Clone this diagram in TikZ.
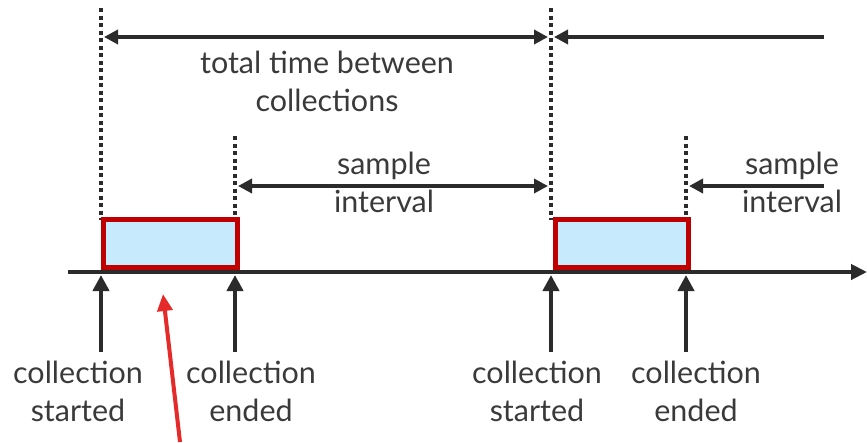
\documentclass[tikz,border=0pt]{standalone}
\usepackage{fontspec}
\setmainfont{Lato}
\usetikzlibrary{arrows.meta}
\definecolor{ink}{HTML}{2B2B2B}
\definecolor{txt}{HTML}{3A3A3A}
\definecolor{boxred}{HTML}{C00000}
\definecolor{boxfill}{HTML}{C7EBFD}
\definecolor{pointer}{HTML}{E52A2A}
\tikzset{
  guide/.style={ink, line width=4pt, dash pattern=on 4pt off 3.5pt},
  span/.style={ink, line width=4.2pt, {Triangle[length=14pt,width=14pt]}-{Triangle[length=14pt,width=14pt]}},
  halfspan/.style={ink, line width=4.2pt, -{Triangle[length=14pt,width=14pt]}},
  marker/.style={ink, line width=4.5pt, -{Triangle[length=16pt,width=16pt]}},
  window/.style={draw=boxred, line width=5pt, fill=boxfill},
  lbl/.style={text=txt, font=\fontsize{30.5}{38}\selectfont, align=center, inner sep=0pt}
}
\begin{document}
\begin{tikzpicture}[x=1pt,y=-1pt]
\useasboundingbox (0,0) rectangle (867,442);

% dotted guides
\draw[guide] (101,8) -- (101,220);
\draw[guide] (551,8) -- (551,220);
\draw[guide] (235,136) -- (235,220);
\draw[guide] (686,136) -- (686,220);

% collection windows
\node[window, minimum width=134pt, minimum height=48pt, inner sep=0pt, anchor=south west] (w1) at (101,270) {};
\node[window, minimum width=133pt, minimum height=48pt, inner sep=0pt, anchor=south west] (w2) at (553,270) {};

% timeline
\coordinate (t0) at (68,272); \coordinate (t1) at (867,272);
\draw[ink, line width=4.5pt, -{Triangle[length=16pt,width=15pt]}] (t0) -- (t1);

% spans
\coordinate (a1) at (104,37); \coordinate (a2) at (548,37);
\draw[span] (a1) -- (a2);
\coordinate (b1) at (824,37); \coordinate (b2) at (554,37);
\draw[halfspan] (b1) -- (b2);
\coordinate (c1) at (238,186); \coordinate (c2) at (548,186);
\draw[span] (c1) -- (c2);
\coordinate (d1) at (824,186); \coordinate (d2) at (689,186);
\draw[halfspan] (d1) -- (d2);

\node[lbl] (total) at (327,81) {total time between\\collections};
\node[lbl] (si1) at (384,182) {sample\\interval};
\node[lbl] (si2) at (792,182) {sample\\interval};

% markers from below
\foreach \n/\x in {m1/101, m2/235, m3/551, m4/686} {
  \coordinate (\n a) at (\x,352);
  \coordinate (\n b) at (\x,275);
  \draw[marker] (\n a) -- (\n b);
}

\node[lbl] (cs1) at (78,391) {collection\\started};
\node[lbl] (ce1) at (251,391) {collection\\ended};
\node[lbl] (cs2) at (537,391) {collection\\started};
\node[lbl] (ce2) at (696,391) {collection\\ended};

% pointer to the first window
\coordinate (p0) at (180,442); \coordinate (p1) at (163,294);
\draw[pointer, line width=4pt, -{Triangle[length=17pt,width=15pt]}] (p0) -- (p1);
\end{tikzpicture}
\end{document}
